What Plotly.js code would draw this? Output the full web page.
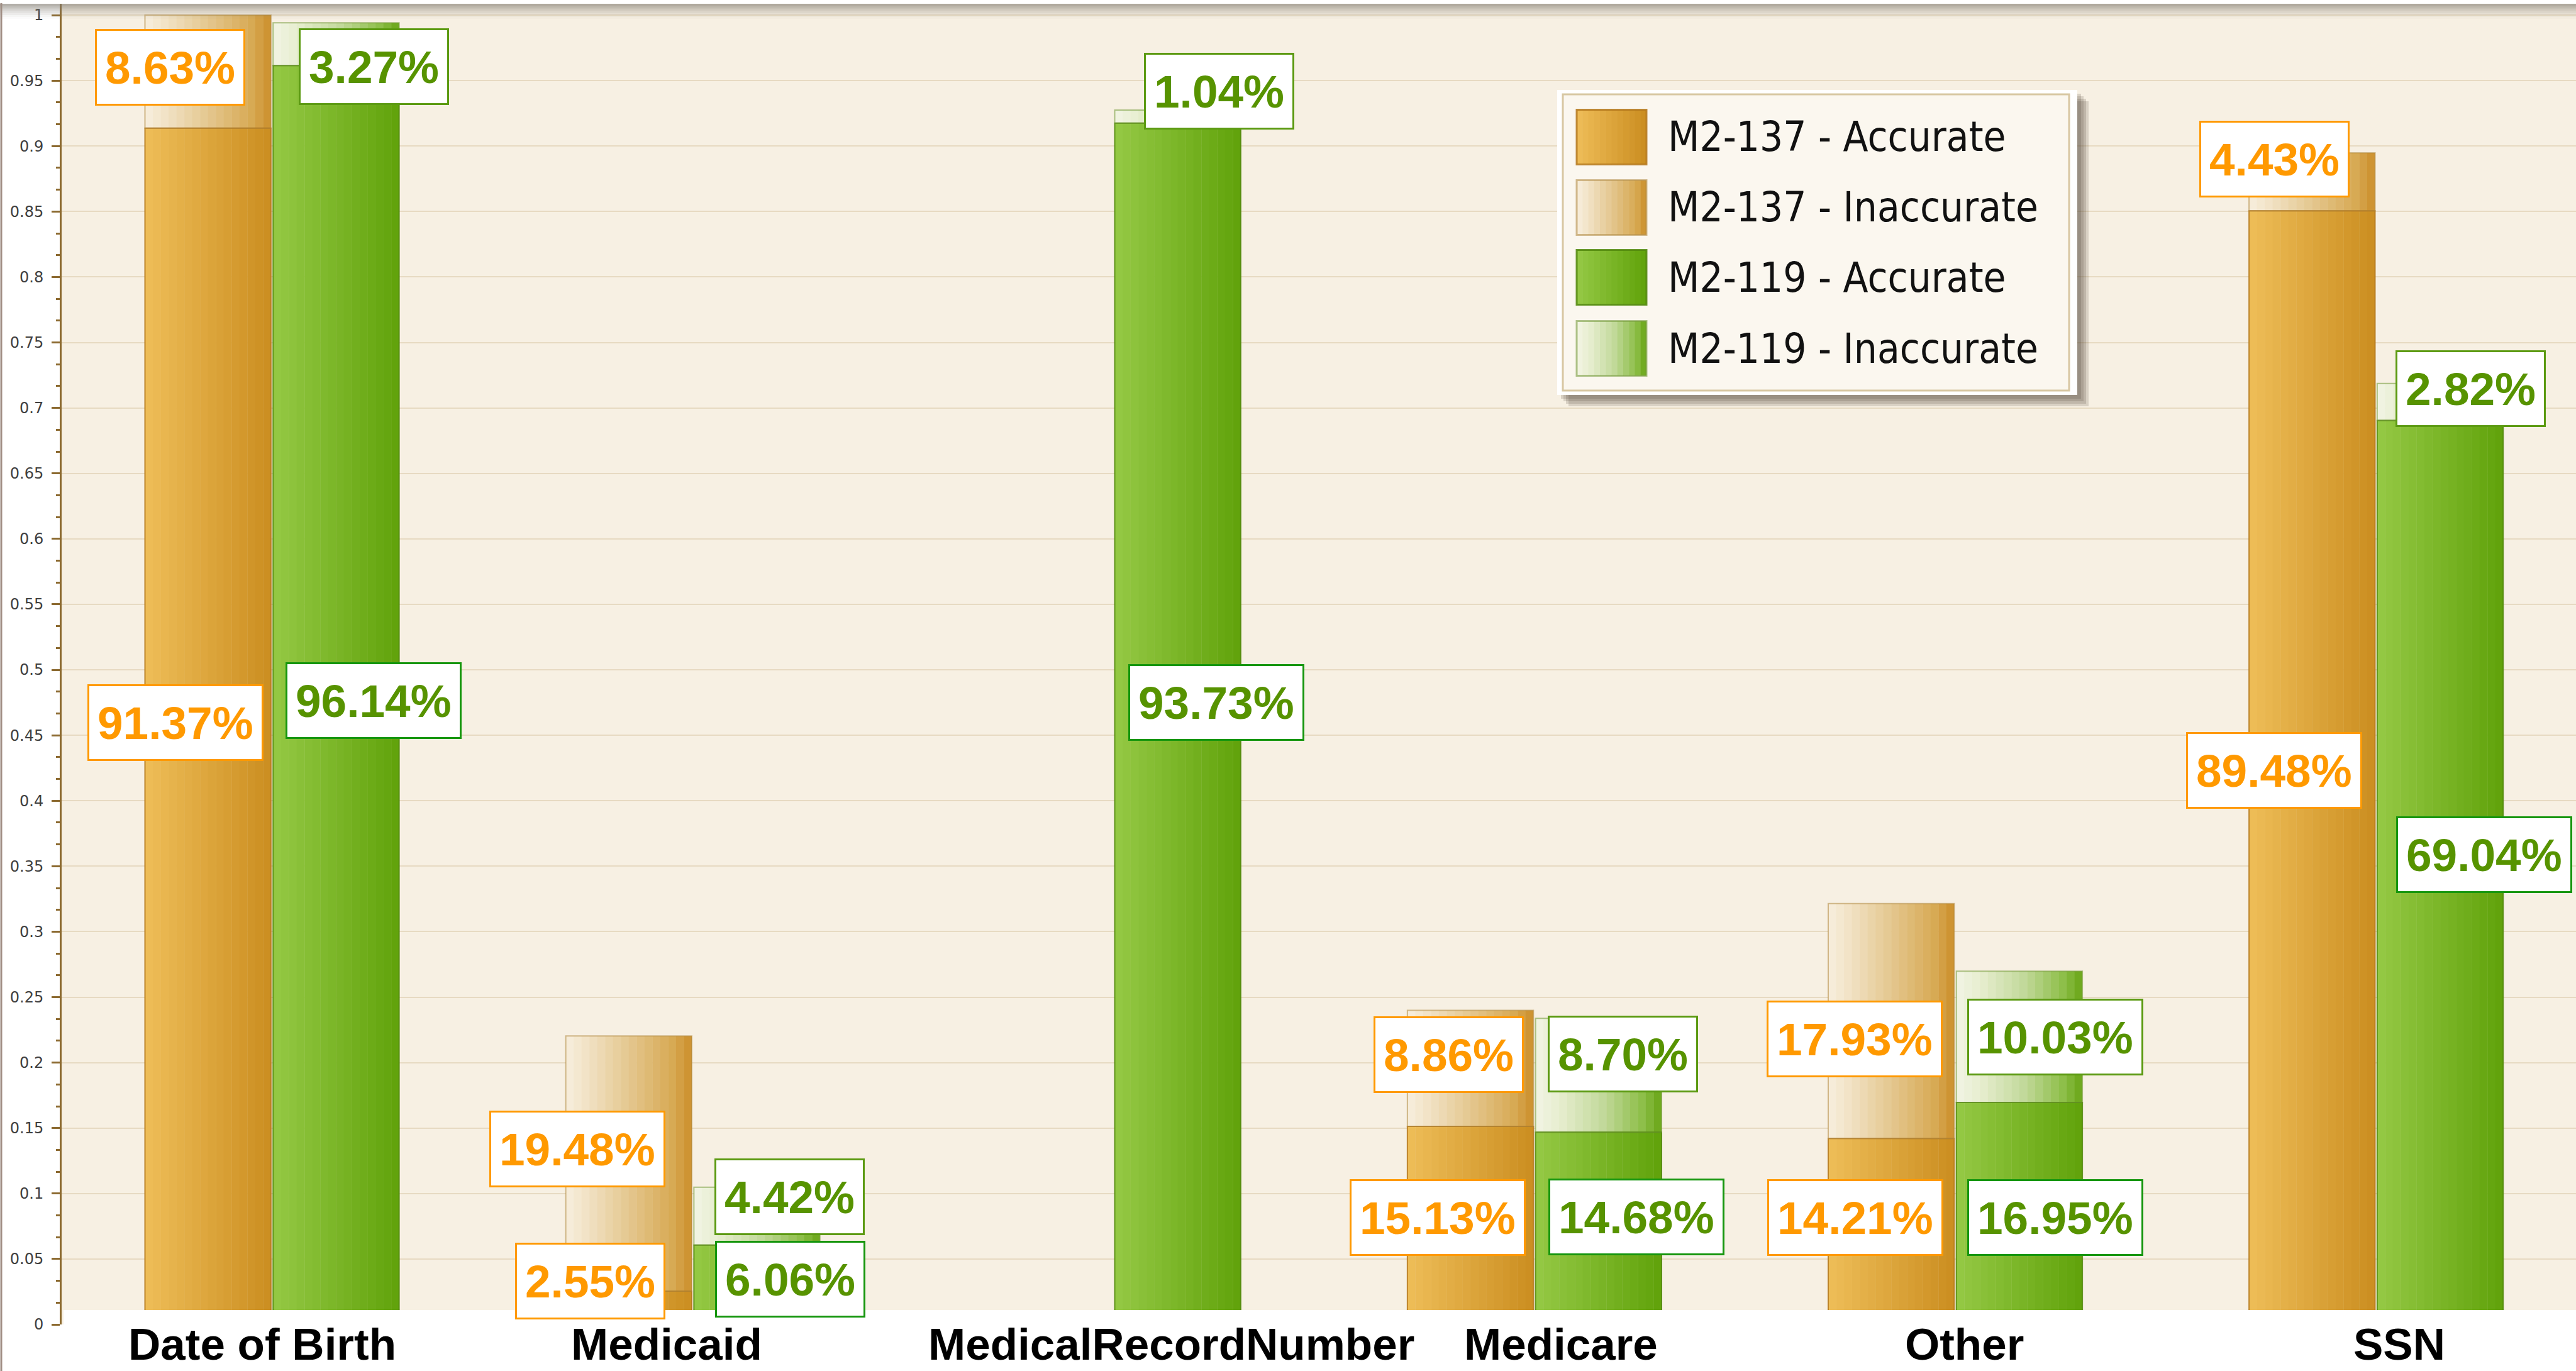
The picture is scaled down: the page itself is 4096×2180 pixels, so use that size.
<!DOCTYPE html>
<html>
<head>
<meta charset="utf-8">
<script src="https://cdn.plot.ly/plotly-3.0.1.min.js"></script>
<style>
html,body{margin:0;padding:0;background:#ffffff;}
#chart{width:4096px;height:2180px;}
</style>
</head>
<body>
<div id="chart"></div>
<script>
// ---------------- data ----------------
const categories = ["Date of Birth", "Medicaid", "MedicalRecordNumber", "Medicare", "Other", "SSN"];
const seriesNames = ["M2-137 - Accurate", "M2-137 - Inaccurate", "M2-119 - Accurate", "M2-119 - Inaccurate"];

const accurate137   = [0.9137, 0.0255, null, 0.1513, 0.1421, 0.8505];
const inaccurate137 = [0.0863, 0.1948, null, 0.0886, 0.1793, 0.0443];
const accurate119   = [0.9614, 0.0606, 0.9175, 0.1468, 0.1695, 0.6904];
const inaccurate119 = [0.0327, 0.0442, 0.0100, 0.0870, 0.1003, 0.0282];

const labelsAccurate137   = ["91.37%", "2.55%", null, "15.13%", "14.21%", "89.48%"];
const labelsInaccurate137 = ["8.63%", "19.48%", null, "8.86%", "17.93%", "4.43%"];
const labelsAccurate119   = ["96.14%", "6.06%", "93.73%", "14.68%", "16.95%", "69.04%"];
const labelsInaccurate119 = ["3.27%", "4.42%", "1.04%", "8.70%", "10.03%", "2.82%"];

const yTickVals = [0, 0.05, 0.1, 0.15, 0.2, 0.25, 0.3, 0.35, 0.4, 0.45, 0.5, 0.55, 0.6, 0.65, 0.7, 0.75, 0.8, 0.85, 0.9, 0.95, 1];
const yTickText = ["0", "0.05", "0.1", "0.15", "0.2", "0.25", "0.3", "0.35", "0.4", "0.45", "0.5", "0.55", "0.6", "0.65", "0.7", "0.75", "0.8", "0.85", "0.9", "0.95", "1"];

// ---------------- layout / style constants ----------------
const W = 4096, H = 2180, ML = 98, MR = 0, MT = 6, MB = 74;
const PW = W - ML - MR, PH = H - MT - MB;
const PX_PER_UNIT = 2082;
const xP = px => (px - ML) / PW;
const yP = py => (H - MB - py) / PH;

const LABEL_FONT = "Liberation Sans, Arial, sans-serif";
const LEGEND_FONT = "DejaVu Sans Condensed, Liberation Sans, sans-serif";
const BW = 0.2995, OFF_O = -0.302, OFF_G = 0.0025;
const N_STRIPS = 16;

const stops = {
  oa: [[0, '#EEBD58'], [1, '#CB8D20']],
  oi: [[0, '#F7EEDD'], [0.15, '#F2E4C8'], [0.5, '#E4C78F'], [0.85, '#D7A953'], [1, '#CB8F2A']],
  ga: [[0, '#95C945'], [1, '#60A20A']],
  gi: [[0, '#F2F4E4'], [0.2, '#E6EDCE'], [0.55, '#C0D898'], [0.85, '#8DBE48'], [1, '#68A515']]
};
const outline = {
  oa: 'rgba(180,120,28,0.85)', oi: 'rgba(175,135,60,0.55)',
  ga: 'rgba(80,135,10,0.85)', gi: 'rgba(110,150,50,0.55)'
};

function hex2rgb(h){ h = h.replace('#',''); return [0,2,4].map(i => parseInt(h.substr(i,2),16)); }
function colorAt(st, t){
  for (let k = 0; k < st.length - 1; k++) {
    const [t0, c0] = st[k], [t1, c1] = st[k+1];
    if (t >= t0 && t <= t1) {
      const f = (t - t0) / (t1 - t0), a = hex2rgb(c0), b = hex2rgb(c1);
      return 'rgb(' + a.map((v,i) => Math.round(v + (b[i]-v)*f)).join(',') + ')';
    }
  }
  return st[st.length-1][1];
}

// ---------------- traces ----------------
const series = [
  {name: seriesNames[0], y: accurate137,   base: null,        off: OFF_O, key: 'oa'},
  {name: seriesNames[1], y: inaccurate137, base: accurate137, off: OFF_O, key: 'oi'},
  {name: seriesNames[2], y: accurate119,   base: null,        off: OFF_G, key: 'ga'},
  {name: seriesNames[3], y: inaccurate119, base: accurate119, off: OFF_G, key: 'gi'}
];

const traces = [];
// horizontal colour gradient of every bar: thin slices of the same bar values
series.forEach(s => {
  for (let i = 0; i < N_STRIPS; i++) {
    const w = BW / N_STRIPS;
    const t = {
      type: 'bar', x: categories, y: s.y,
      offset: s.off + i * w, width: (i < N_STRIPS - 1) ? w * 1.03 : w,
      marker: {color: colorAt(stops[s.key], (i + 0.5) / N_STRIPS), line: {width: 0}},
      showlegend: false, hoverinfo: 'skip'
    };
    if (s.base) t.base = s.base;
    traces.push(t);
  }
});
// the named series (outline of each bar segment)
series.forEach(s => {
  const t = {
    type: 'bar', name: s.name, x: categories, y: s.y,
    offset: s.off, width: BW,
    marker: {color: 'rgba(0,0,0,0)', line: {color: outline[s.key], width: 2}},
    showlegend: false, hoverinfo: 'name+y'
  };
  if (s.base) t.base = s.base;
  traces.push(t);
});

// ---------------- annotations ----------------
const annotations = [];
const ORANGE = '#FF9900', GREEN_TXT = '#579300';
const labelSets = [
  {vals: accurate137,   base: null,        txt: labelsAccurate137,   cx: OFF_O + BW/2, color: ORANGE, border: '#FF9900',
   xs: [-52, -61, 0, -52, -57, -60], ys: [6, 42, 0, 13, 22, -4]},
  {vals: inaccurate137, base: accurate137, txt: labelsInaccurate137, cx: OFF_O + BW/2, color: ORANGE, border: '#FF9900',
   xs: [-60, -82, 0, -35, -58, -60], ys: [7, 23, 0, 22, -28, 36]},
  {vals: accurate119,   base: null,        txt: labelsAccurate119,   cx: OFF_G + BW/2, color: GREEN_TXT, border: '#16960E',
   xs: [60, 53, 61, 60, 57, 70], ys: [-9, 9, 34, 18, -6, 28]},
  {vals: inaccurate119, base: accurate119, txt: labelsInaccurate119, cx: OFF_G + BW/2, color: GREEN_TXT, border: '#5C9A12',
   xs: [60, 52, 66, 39, 57, 48], ys: [-36, 31, 40, 34, 0, 21]}
];
labelSets.forEach(ls => {
  ls.vals.forEach((v, i) => {
    if (v == null || ls.txt[i] == null) return;
    const b = ls.base ? ls.base[i] : 0;
    annotations.push({
      x: i + ls.cx, y: b + v / 2, xref: 'x', yref: 'y',
      text: ls.txt[i], showarrow: false,
      xshift: ls.xs[i], yshift: ls.ys[i],
      font: {family: LABEL_FONT, size: 73, color: ls.color, weight: 'bold'},
      height: 90,
      bgcolor: '#FFFFFF', bordercolor: ls.border, borderwidth: 3, borderpad: 13
    });
  });
});

// category labels
const catShift = [-16, -42, 92, 42, 14, 37];
categories.forEach((c, i) => {
  annotations.push({
    x: i, y: yP(2137), xref: 'x', yref: 'paper', text: c, showarrow: false,
    xshift: catShift[i], yanchor: 'middle',
    font: {family: LABEL_FONT, size: 71, color: '#000000', weight: 'bold'}
  });
});

// ---------------- shapes ----------------
const shapes = [];
// white strip under plot bottom (plot area ends slightly above 0)
shapes.push({type: 'rect', xref: 'x domain', yref: 'y', x0: 0.00075, x1: 1, y0: 0, y1: 23 / PX_PER_UNIT,
  fillcolor: '#FFFFFF', line: {width: 0}, layer: 'above'});
// top grey shading band
const bandAlpha = [0.6, 0.5, 0.4, 0.3, 0.22, 0.15, 0.08, 0.03];
bandAlpha.forEach((a, k) => {
  shapes.push({type: 'rect', xref: 'paper', yref: 'paper', x0: xP(0), x1: 1,
    y0: yP(6 + 3 * (k + 1)), y1: yP(6 + 3 * k),
    fillcolor: 'rgba(128,122,112,' + a + ')', line: {width: 0}, layer: 'above'});
});
// left border line of the picture
shapes.push({type: 'line', xref: 'paper', yref: 'paper', x0: xP(2), x1: xP(2), y0: yP(H), y1: yP(5),
  line: {color: '#A08E84', width: 3}, layer: 'above'});

// legend box (large swatches, as in the original)
const LG = {x0: 2476, x1: 3303, y0: 143, y1: 628};
[18, 14, 10, 6].forEach(o => {
  shapes.push({type: 'rect', xref: 'paper', yref: 'paper',
    x0: xP(LG.x0 + o), x1: xP(LG.x1 + o), y0: yP(LG.y1 + o), y1: yP(LG.y0 + o),
    fillcolor: 'rgba(60,52,40,0.16)', line: {width: 0}, layer: 'above'});
});
shapes.push({type: 'rect', xref: 'paper', yref: 'paper', x0: xP(LG.x0), x1: xP(LG.x1), y0: yP(LG.y1), y1: yP(LG.y0),
  fillcolor: '#FFFFFF', line: {width: 0}, layer: 'above'});
shapes.push({type: 'rect', xref: 'paper', yref: 'paper', x0: xP(2485), x1: xP(3290), y0: yP(621), y1: yP(150),
  fillcolor: '#FBF7EF', line: {color: '#D8C7A2', width: 3}, layer: 'above'});
const rowCenters = [218, 330, 441, 554];
const SW = {x0: 2507, x1: 2618, h: 87};
series.forEach((s, r) => {
  const cy = rowCenters[r];
  const n = 12, w = (SW.x1 - SW.x0) / n;
  for (let i = 0; i < n; i++) {
    shapes.push({type: 'rect', xref: 'paper', yref: 'paper',
      x0: xP(SW.x0 + i * w), x1: xP(SW.x0 + (i + 1) * w + (i < n - 1 ? 0.6 : 0)),
      y0: yP(cy + SW.h / 2), y1: yP(cy - SW.h / 2),
      fillcolor: colorAt(stops[s.key], (i + 0.5) / n), line: {width: 0}, layer: 'above'});
  }
  shapes.push({type: 'rect', xref: 'paper', yref: 'paper', x0: xP(SW.x0), x1: xP(SW.x1),
    y0: yP(cy + SW.h / 2), y1: yP(cy - SW.h / 2),
    fillcolor: 'rgba(0,0,0,0)', line: {color: outline[s.key], width: 3}, layer: 'above'});
  annotations.push({x: xP(2650), y: yP(cy), xref: 'paper', yref: 'paper', xanchor: 'left', yanchor: 'middle',
    text: s.name, showarrow: false, font: {family: LEGEND_FONT, size: 65, color: '#111111'}});
});

// ---------------- layout ----------------
const layout = {
  width: W, height: H,
  margin: {l: ML, r: MR, t: MT, b: MB, pad: 0},
  paper_bgcolor: '#FFFFFF',
  plot_bgcolor: '#F7F0E3',
  barmode: 'overlay',
  showlegend: false,
  xaxis: {
    type: 'category', range: [-0.5, 5.475], showticklabels: false, ticks: '',
    showgrid: false, zeroline: false, showline: false, fixedrange: true
  },
  yaxis: {
    range: [0, PH / PX_PER_UNIT], tickmode: 'array', tickvals: yTickVals, ticktext: yTickText,
    showline: true, linecolor: '#8C6A30', linewidth: 3,
    ticks: 'outside', ticklen: 13, tickwidth: 3, tickcolor: '#8C6A30',
    tickfont: {family: 'DejaVu Sans, sans-serif', size: 24, color: '#404040'},
    ticklabelstandoff: 8,
    showgrid: true, gridcolor: '#E7DAC2', gridwidth: 2, zeroline: false,
    minor: {tickmode: 'linear', tick0: 0, dtick: 0.05 / 3, ticks: 'outside', ticklen: 6, tickwidth: 3,
            tickcolor: '#8C6A30', showgrid: false},
    fixedrange: true
  },
  shapes: shapes,
  annotations: annotations
};

Plotly.newPlot('chart', traces, layout, {displayModeBar: false, staticPlot: true});
</script>
</body>
</html>
